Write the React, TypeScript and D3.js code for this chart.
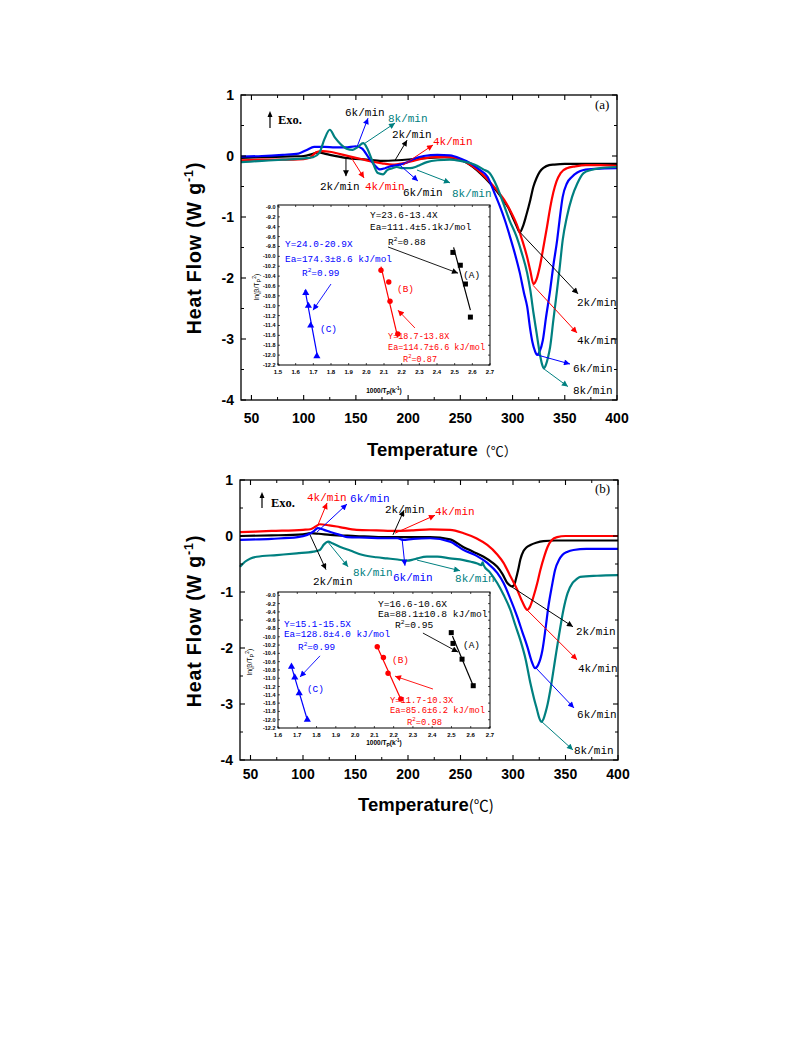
import React from "react";
import * as d3 from "d3";

// ---------------- Panel (a) DSC curves ----------------
const aBlackT = [40, 60, 80, 100, 108, 114, 122, 140, 160, 175, 190, 205, 220, 235, 250, 262, 270, 278, 285, 291, 296, 300, 304, 307, 310, 313, 317, 320, 323, 326, 330, 335, 340, 350, 370, 400];
const aBlackV = [-0.03, -0.02, -0.01, 0, 0.03, 0.06, 0.03, -0.03, -0.06, -0.08, -0.07, -0.05, -0.03, -0.02, -0.06, -0.18, -0.3, -0.44, -0.58, -0.72, -0.85, -1.0, -1.15, -1.25, -1.15, -0.98, -0.72, -0.5, -0.36, -0.26, -0.19, -0.15, -0.14, -0.13, -0.13, -0.13];

const aRedT = [40, 60, 80, 100, 106, 112, 118, 125, 135, 145, 155, 165, 175, 185, 195, 205, 215, 225, 240, 250, 262, 270, 278, 285, 292, 298, 304, 310, 314, 317, 320, 323, 326, 330, 333, 336, 339, 342, 346, 352, 360, 370, 385, 400];
const aRedV = [-0.07, -0.06, -0.06, -0.05, -0.03, 0.06, 0.08, 0.07, 0.03, -0.01, -0.05, -0.09, -0.12, -0.14, -0.12, -0.08, -0.04, -0.02, -0.02, -0.06, -0.17, -0.28, -0.42, -0.56, -0.72, -0.9, -1.12, -1.42, -1.66, -1.88, -2.1, -2.02, -1.82, -1.45, -1.16, -0.85, -0.6, -0.42, -0.28, -0.2, -0.17, -0.15, -0.15, -0.16];

const aBlueT = [40, 60, 80, 95, 103, 110, 120, 130, 140, 150, 156, 162, 168, 173, 178, 183, 190, 197, 205, 215, 228, 240, 250, 260, 268, 276, 283, 288, 293, 298, 303, 307, 311, 314, 317, 319, 321.5, 323.5, 326, 329, 332, 336, 339, 342.7, 345, 348, 352, 357, 362, 368, 380, 400];
const aBlueV = [-0.01, 0, 0.02, 0.04, 0.1, 0.15, 0.15, 0.14, 0.14, 0.16, 0.12, -0.02, -0.15, -0.22, -0.2, -0.17, -0.15, -0.12, -0.05, 0, 0.02, 0.01, -0.04, -0.12, -0.22, -0.34, -0.62, -0.83, -1.07, -1.35, -1.65, -1.92, -2.25, -2.47, -2.85, -3.05, -3.2, -3.26, -3.2, -3.02, -2.65, -2.2, -1.8, -1.38, -1.05, -0.67, -0.45, -0.34, -0.27, -0.23, -0.21, -0.2];

const aTealT = [40, 60, 80, 100, 109, 115, 120, 125, 130, 135, 141, 147, 152, 157, 161, 165, 171, 176, 180, 185, 189, 195, 202, 207, 211, 218, 228, 240, 250, 260, 266, 272, 278, 285, 291, 297, 304, 309, 314, 317, 320, 323, 326, 328, 330, 332, 334, 336, 339, 342.6, 345, 348, 352, 357, 362, 368, 375, 384, 400];
const aTealV = [-0.1, -0.08, -0.06, -0.04, -0.02, 0.05, 0.28, 0.43, 0.3, 0.2, 0.12, 0.1, 0.15, 0.21, 0.12, -0.05, -0.28, -0.3, -0.23, -0.2, -0.18, -0.2, -0.2, -0.18, -0.15, -0.1, -0.07, -0.06, -0.08, -0.12, -0.16, -0.22, -0.28, -0.5, -0.77, -1.05, -1.33, -1.6, -1.92, -2.2, -2.57, -2.9, -3.23, -3.4, -3.48, -3.42, -3.3, -3.13, -2.7, -2.2, -1.85, -1.38, -1.0, -0.67, -0.45, -0.28, -0.23, -0.2, -0.18];

// ---------------- Panel (b) DSC curves ----------------
const bBlackT = [40, 70, 100, 107, 115, 126, 150, 175, 200, 221, 240, 253, 262, 272, 280, 285, 290, 294.6, 297, 299, 301, 302.5, 305, 307, 310, 313, 316.6, 322, 329, 340, 360, 400];
const bBlackV = [0, 0.01, 0.03, 0.05, 0.04, 0.02, 0, -0.02, -0.02, -0.02, -0.06, -0.2, -0.28, -0.37, -0.47, -0.55, -0.68, -0.84, -0.88, -0.9, -0.88, -0.79, -0.6, -0.42, -0.27, -0.2, -0.16, -0.12, -0.09, -0.08, -0.08, -0.08];

const bRedT = [40, 70, 100, 107, 112, 116, 125, 135, 151, 170, 190, 205, 221, 240, 253, 265, 275.5, 285, 291, 297, 304, 309, 313.7, 316, 319.4, 323, 326, 330, 332.8, 337, 342, 350, 370, 400];
const bRedV = [0.07, 0.09, 0.11, 0.12, 0.17, 0.21, 0.19, 0.16, 0.11, 0.1, 0.09, 0.1, 0.12, 0.11, 0.05, -0.04, -0.16, -0.33, -0.48, -0.7, -0.96, -1.18, -1.32, -1.27, -1.09, -0.85, -0.61, -0.35, -0.2, -0.07, -0.02, 0, 0, 0];

const bBlueT = [40, 70, 95, 104, 110, 114, 120, 126, 135, 142, 160, 175, 190, 195, 205, 221, 240, 253, 265, 275.5, 285, 291, 297, 304, 309, 313.7, 318, 321, 324, 328, 331, 333.7, 337, 340, 344, 347, 352, 357.6, 370, 400];
const bBlueV = [-0.07, -0.05, -0.02, 0.02, 0.08, 0.14, 0.11, 0.07, 0.02, -0.02, -0.03, -0.04, -0.04, -0.07, -0.05, -0.04, -0.1, -0.25, -0.35, -0.48, -0.66, -0.84, -1.1, -1.44, -1.72, -1.98, -2.25, -2.36, -2.3, -2.04, -1.65, -1.26, -0.9, -0.61, -0.42, -0.34, -0.28, -0.25, -0.23, -0.23];

const bTealT = [40, 44.7, 50, 56, 75, 94, 110, 116, 120, 124, 128, 135, 145, 157, 170, 180, 190, 199, 205, 209, 218, 228, 240, 253, 260, 266, 270, 271, 272, 278, 285, 291, 297.5, 302, 307, 312, 316.6, 320, 323, 325, 327, 329, 331, 333, 336, 340.5, 344, 348, 352, 356.6, 360, 364, 380, 400];
const bTealV = [-0.55, -0.46, -0.4, -0.37, -0.34, -0.31, -0.28, -0.25, -0.15, -0.1, -0.13, -0.19, -0.26, -0.34, -0.38, -0.4, -0.42, -0.44, -0.42, -0.4, -0.37, -0.37, -0.4, -0.43, -0.46, -0.49, -0.52, -0.47, -0.52, -0.65, -0.84, -1.05, -1.32, -1.58, -1.86, -2.2, -2.63, -2.9, -3.11, -3.25, -3.32, -3.27, -3.15, -3.0, -2.7, -2.16, -1.75, -1.32, -1.02, -0.84, -0.78, -0.73, -0.71, -0.7];

// ---------------- Inset (a) Kissinger plots ----------------
const aInsetAX = [2.49, 2.532, 2.561, 2.589];
const aInsetAY = [-9.92, -10.18, -10.56, -11.23];
const aInsetAFitX = [2.494, 2.589];
const aInsetAFitY = [-9.82, -11.09];
const aInsetBX = [2.083, 2.127, 2.134, 2.178];
const aInsetBY = [-10.28, -10.52, -10.91, -11.57];
const aInsetBFitX = [2.083, 2.178];
const aInsetBFitY = [-10.21, -11.64];
const aInsetCX = [1.657, 1.672, 1.685, 1.72];
const aInsetCY = [-10.74, -11.0, -11.4, -12.02];
const aInsetCFitX = [1.653, 1.724];
const aInsetCFitY = [-10.68, -12.04];

// ---------------- Inset (b) Kissinger plots ----------------
const bInsetAX = [2.499, 2.508, 2.555, 2.613];
const bInsetAY = [-9.9, -10.16, -10.54, -11.18];
const bInsetAFitX = [2.505, 2.613];
const bInsetAFitY = [-9.98, -11.18];
const bInsetBX = [2.115, 2.147, 2.171, 2.237];
const bInsetBY = [-10.24, -10.5, -10.88, -11.5];
const bInsetBFitX = [2.115, 2.237];
const bInsetBFitY = [-10.24, -11.5];
const bInsetCX = [1.67, 1.687, 1.71, 1.752];
const bInsetCY = [-10.72, -10.98, -11.36, -12.0];
const bInsetCFitX = [1.67, 1.752];
const bInsetCFitY = [-10.72, -12.0];

// ---------------- Ticks ----------------
const mainXTicks = [50, 100, 150, 200, 250, 300, 350, 400];
const mainXMinor = [75, 125, 175, 225, 275, 325, 375];
const mainYTicks = [-4, -3, -2, -1, 0, 1];
const mainYMinor = [-3.5, -2.5, -1.5, -0.5, 0.5];
const insetYTicks = [-12.2, -12.0, -11.8, -11.6, -11.4, -11.2, -11.0, -10.8, -10.6, -10.4, -10.2, -10.0, -9.8, -9.6, -9.4, -9.2, -9.0];
const aInsetXTicks = [1.5, 1.6, 1.7, 1.8, 1.9, 2.0, 2.1, 2.2, 2.3, 2.4, 2.5, 2.6, 2.7];
const bInsetXTicks = [1.6, 1.7, 1.8, 1.9, 2.0, 2.1, 2.2, 2.3, 2.4, 2.5, 2.6, 2.7];

const C2 = "#000000";
const C4 = "#ff0000";
const C6 = "#0000ff";
const C8 = "#008080";

const MONO = "'Liberation Mono', 'DejaVu Sans Mono', monospace";
const SANS = "'Liberation Sans', Arial, sans-serif";
const SERIF = "'Liberation Serif', 'Times New Roman', serif";
const CJK = "'Noto Sans CJK SC', sans-serif";

type Lbl = { t: string; x: number; y: number; c: string };
type Arr = { x1: number; y1: number; x2: number; y2: number; c: string };

// Panel (a) annotations (data coordinates: °C, W/g)
const aLabels: Lbl[] = [
  { t: "6k/min", x: 139.6, y: 0.66, c: C2 },
  { t: "8k/min", x: 180.7, y: 0.56, c: C8 },
  { t: "2k/min", x: 184.6, y: 0.3, c: C2 },
  { t: "4k/min", x: 223.8, y: 0.18, c: C4 },
  { t: "2k/min", x: 115.6, y: -0.56, c: C2 },
  { t: "4k/min", x: 158.7, y: -0.56, c: C4 },
  { t: "6k/min", x: 195.1, y: -0.66, c: C2 },
  { t: "8k/min", x: 242, y: -0.67, c: C8 },
  { t: "2k/min", x: 361.7, y: -2.46, c: C2 },
  { t: "4k/min", x: 361.7, y: -3.08, c: C2 },
  { t: "6k/min", x: 357.9, y: -3.54, c: C2 },
  { t: "8k/min", x: 357.9, y: -3.9, c: C2 },
];
const aArrows: Arr[] = [
  { x1: 151.1, y1: 0.15, x2: 161.6, y2: 0.62, c: C6 },
  { x1: 158.7, y1: 0.21, x2: 187.5, y2: 0.54, c: C8 },
  { x1: 187.5, y1: -0.07, x2: 199, y2: 0.26, c: C2 },
  { x1: 195.1, y1: -0.15, x2: 223.8, y2: 0.18, c: C4 },
  { x1: 140.5, y1: -0.02, x2: 140.5, y2: -0.33, c: C2 },
  { x1: 145.3, y1: -0.02, x2: 157.8, y2: -0.36, c: C4 },
  { x1: 192.2, y1: -0.15, x2: 209.4, y2: -0.41, c: C6 },
  { x1: 208.5, y1: -0.23, x2: 240.1, y2: -0.44, c: C8 },
  { x1: 307.1, y1: -1.25, x2: 362.7, y2: -2.26, c: C2 },
  { x1: 319.6, y1: -2.12, x2: 361.7, y2: -2.9, c: C4 },
  { x1: 323.4, y1: -3.26, x2: 355, y2: -3.41, c: C6 },
  { x1: 329.2, y1: -3.48, x2: 353, y2: -3.78, c: C8 },
];

// Panel (b) annotations
const bLabels: Lbl[] = [
  { t: "4k/min", x: 103.8, y: 0.63, c: C4 },
  { t: "6k/min", x: 144.8, y: 0.6, c: C6 },
  { t: "2k/min", x: 178.1, y: 0.41, c: C2 },
  { t: "4k/min", x: 225.7, y: 0.37, c: C4 },
  { t: "2k/min", x: 109.5, y: -0.87, c: C2 },
  { t: "8k/min", x: 147.6, y: -0.72, c: C8 },
  { t: "6k/min", x: 185.7, y: -0.8, c: C6 },
  { t: "8k/min", x: 244.8, y: -0.82, c: C8 },
  { t: "2k/min", x: 360, y: -1.77, c: C2 },
  { t: "4k/min", x: 361.9, y: -2.43, c: C2 },
  { t: "6k/min", x: 361, y: -3.25, c: C2 },
  { t: "8k/min", x: 358.1, y: -3.89, c: C2 },
];
const bArrows: Arr[] = [
  { x1: 114.3, y1: 0.2, x2: 122.9, y2: 0.59, c: C4 },
  { x1: 113.3, y1: 0.07, x2: 141.9, y2: 0.57, c: C6 },
  { x1: 185.7, y1: 0.02, x2: 196.2, y2: 0.46, c: C2 },
  { x1: 187.6, y1: 0.05, x2: 225.7, y2: 0.37, c: C4 },
  { x1: 106.7, y1: 0.02, x2: 121.9, y2: -0.6, c: C2 },
  { x1: 123.8, y1: -0.11, x2: 142.9, y2: -0.55, c: C8 },
  { x1: 194.3, y1: -0.04, x2: 197.1, y2: -0.53, c: C6 },
  { x1: 208.6, y1: -0.43, x2: 249.5, y2: -0.62, c: C8 },
  { x1: 299, y1: -0.91, x2: 357.1, y2: -1.62, c: C2 },
  { x1: 313.3, y1: -1.32, x2: 361, y2: -2.21, c: C4 },
  { x1: 321, y1: -2.34, x2: 358.1, y2: -3.07, c: C6 },
  { x1: 327.6, y1: -3.32, x2: 357.1, y2: -3.82, c: C8 },
];

// Inset text (inset data coordinates)
type ITxt = { parts: string[]; x: number; y: number; c: string; s: number; r2?: boolean };
const aInsetText: ITxt[] = [
  { parts: ["Y=23.6-13.4X"], x: 2.021, y: -9.22, c: C2, s: 9.4 },
  { parts: ["Ea=111.4±5.1kJ/mol"], x: 2.021, y: -9.47, c: C2, s: 9.4 },
  { parts: ["R", "0.88"], x: 2.123, y: -9.77, c: C2, s: 9.4, r2: true },
  { parts: ["(A)"], x: 2.548, y: -10.44, c: C2, s: 9.4 },
  { parts: ["Y=24.0-20.9X"], x: 1.54, y: -9.81, c: C6, s: 9.4 },
  { parts: ["Ea=174.3±8.6 kJ/mol"], x: 1.54, y: -10.11, c: C6, s: 9.4 },
  { parts: ["R", "0.99"], x: 1.636, y: -10.4, c: C6, s: 9.4, r2: true },
  { parts: ["(C)"], x: 1.738, y: -11.53, c: C6, s: 9.4 },
  { parts: ["(B)"], x: 2.174, y: -10.72, c: C4, s: 9.4 },
  { parts: ["Y=18.7-13.8X"], x: 2.123, y: -11.67, c: C4, s: 8.5 },
  { parts: ["Ea=114.7±6.6 kJ/mol"], x: 2.123, y: -11.9, c: C4, s: 8.5 },
  { parts: ["R", "0.87"], x: 2.208, y: -12.14, c: C4, s: 8.5, r2: true },
];
const aInsetArrows: Arr[] = [
  { x1: 2.123, y1: -9.81, x2: 2.519, y2: -10.34, c: C2 },
  { x1: 2.275, y1: -11.45, x2: 2.179, y2: -11.09, c: C4 },
  { x1: 1.8, y1: -10.56, x2: 1.698, y2: -11.09, c: C6 },
];
const bInsetText: ITxt[] = [
  { parts: ["Y=16.6-10.6X"], x: 2.119, y: -9.28, c: C2, s: 9.6 },
  { parts: ["Ea=88.1±10.8 kJ/mol"], x: 2.119, y: -9.52, c: C2, s: 9.6 },
  { parts: ["R", "0.95"], x: 2.207, y: -9.79, c: C2, s: 9.6, r2: true },
  { parts: ["(A)"], x: 2.56, y: -10.27, c: C2, s: 9.4 },
  { parts: ["Y=15.1-15.5X"], x: 1.631, y: -9.76, c: C6, s: 9.3 },
  { parts: ["Ea=128.8±4.0 kJ/mol"], x: 1.631, y: -10.0, c: C6, s: 9.3 },
  { parts: ["R", "0.99"], x: 1.704, y: -10.32, c: C6, s: 9.3, r2: true },
  { parts: ["(C)"], x: 1.75, y: -11.33, c: C6, s: 9.4 },
  { parts: ["(B)"], x: 2.192, y: -10.63, c: C4, s: 9.4 },
  { parts: ["Y=11.7-10.3X"], x: 2.181, y: -11.6, c: C4, s: 8.8 },
  { parts: ["Ea=85.6±6.2 kJ/mol"], x: 2.181, y: -11.84, c: C4, s: 8.8 },
  { parts: ["R", "0.98"], x: 2.269, y: -12.13, c: C4, s: 8.8, r2: true },
];
const bInsetArrows: Arr[] = [
  { x1: 2.352, y1: -9.91, x2: 2.534, y2: -10.37, c: C2 },
  { x1: 2.404, y1: -11.26, x2: 2.207, y2: -10.95, c: C4 },
  { x1: 1.818, y1: -10.46, x2: 1.714, y2: -10.97, c: C6 },
];

const zip = (a: number[], b: number[]): [number, number][] => a.map((v, i) => [v, b[i]]);

function markerId(c: string) {
  return "arr" + c.replace("#", "");
}

function Arrow({ a, x, y, w = 1 }: { a: Arr; x: (v: number) => number; y: (v: number) => number; w?: number }) {
  return (
    <line x1={x(a.x1)} y1={y(a.y1)} x2={x(a.x2)} y2={y(a.y2)} stroke={a.c} strokeWidth={w} markerEnd={`url(#${markerId(a.c)})`} />
  );
}

type InsetCfg = {
  left: number; right: number; top: number; bottom: number;
  xDom: [number, number]; yDom: [number, number];
  xTicks: number[];
  A: [number[], number[], number[], number[]];
  B: [number[], number[], number[], number[]];
  C: [number[], number[], number[], number[]];
  text: ITxt[]; arrows: Arr[];
  xTitleY: number; yTitleX: number; yTitleY: number;
};

function Inset({ cfg }: { cfg: InsetCfg }) {
  const x = d3.scaleLinear().domain(cfg.xDom).range([cfg.left, cfg.right]);
  const y = d3.scaleLinear().domain(cfg.yDom).range([cfg.bottom, cfg.top]);
  const fit = (fx: number[], fy: number[], c: string) => (
    <line x1={x(fx[0])} y1={y(fy[0])} x2={x(fx[1])} y2={y(fy[1])} stroke={c} strokeWidth={1.2} />
  );
  const tri = d3.symbol().type(d3.symbolTriangle).size(22)();
  return (
    <g>
      <rect x={cfg.left} y={cfg.top} width={cfg.right - cfg.left} height={cfg.bottom - cfg.top} fill="#fff" stroke="#000" strokeWidth={1} />
      {insetYTicks.map((t) => (
        <g key={"iy" + t}>
          <line x1={cfg.left} x2={cfg.left + 2} y1={y(t)} y2={y(t)} stroke="#000" strokeWidth={0.7} />
          <line x1={cfg.right} x2={cfg.right - 2} y1={y(t)} y2={y(t)} stroke="#000" strokeWidth={0.7} />
          <text x={cfg.left - 2.5} y={y(t) + 2} fontSize={5.5} fontWeight="bold" fontFamily={SANS} textAnchor="end">{t.toFixed(1)}</text>
        </g>
      ))}
      {cfg.xTicks.map((t) => (
        <g key={"ix" + t}>
          <line x1={x(t)} x2={x(t)} y1={cfg.bottom} y2={cfg.bottom - 2} stroke="#000" strokeWidth={0.7} />
          <line x1={x(t)} x2={x(t)} y1={cfg.top} y2={cfg.top + 2} stroke="#000" strokeWidth={0.7} />
          <text x={x(t)} y={cfg.bottom + 9} fontSize={6} fontWeight="bold" fontFamily={SANS} textAnchor="middle">{t.toFixed(1)}</text>
        </g>
      ))}
      <text x={(cfg.left + cfg.right) / 2} y={cfg.xTitleY} fontSize={6.5} fontWeight="bold" fontFamily={SANS} textAnchor="middle">
        1000/T<tspan fontSize={5} dy={1.5}>P</tspan><tspan dy={-1.5}>(k</tspan><tspan fontSize={4.5} dy={-3}>-1</tspan><tspan dy={3}>)</tspan>
      </text>
      <text transform={`translate(${cfg.yTitleX},${cfg.yTitleY}) rotate(-90)`} fontSize={7} fontFamily={SANS} textAnchor="middle">
        ln(β/T<tspan fontSize={5.5} dy={1.5}>P</tspan><tspan fontSize={5} dy={-5}>2</tspan><tspan dy={3.5}>)</tspan>
      </text>
      {fit(cfg.A[2], cfg.A[3], C2)}
      {fit(cfg.B[2], cfg.B[3], C4)}
      {fit(cfg.C[2], cfg.C[3], C6)}
      {zip(cfg.A[0], cfg.A[1]).map((p, i) => (
        <rect key={"a" + i} x={x(p[0]) - 2.5} y={y(p[1]) - 2.5} width={5} height={5} fill={C2} />
      ))}
      {zip(cfg.B[0], cfg.B[1]).map((p, i) => (
        <circle key={"b" + i} cx={x(p[0])} cy={y(p[1])} r={2.7} fill={C4} />
      ))}
      {zip(cfg.C[0], cfg.C[1]).map((p, i) => (
        <path key={"c" + i} d={tri || ""} transform={`translate(${x(p[0])},${y(p[1])})`} fill={C6} />
      ))}
      {cfg.arrows.map((a, i) => <Arrow key={"ia" + i} a={a} x={x} y={y} w={0.9} />)}
      {cfg.text.map((t, i) => (
        <text key={"it" + i} x={x(t.x)} y={y(t.y)} fill={t.c} fontSize={t.s} fontFamily={MONO}>
          {t.r2 ? (
            <>
              {t.parts[0]}
              <tspan fontSize={t.s * 0.65} dy={-4}>2</tspan>
              <tspan dy={4}>{"=" + t.parts[1]}</tspan>
            </>
          ) : (
            t.parts[0]
          )}
        </text>
      ))}
    </g>
  );
}

type PanelCfg = {
  left: number; right: number; top: number; bottom: number;
  series: { T: number[]; v: number[]; c: string }[];
  labels: Lbl[]; arrows: Arr[];
  tag: string; tagX: number; tagY: number;
  exoX: number; exoY1: number; exoY2: number; exoTextX: number; exoTextY: number;
  xTitle: string; xTitleX: number; xTitleY: number; tickLabelY: number;
  yTitleY: number;
  inset: InsetCfg;
};

function Panel({ cfg }: { cfg: PanelCfg }) {
  const x = d3.scaleLinear().domain([40, 400]).range([cfg.left, cfg.right]);
  const y = d3.scaleLinear().domain([-4, 1]).range([cfg.bottom, cfg.top]);
  const line = d3
    .line<[number, number]>()
    .x((d) => x(d[0]))
    .y((d) => y(d[1]))
    .curve(d3.curveMonotoneX);
  const maj = 5;
  const mn = 3;
  return (
    <g>
      <Inset cfg={cfg.inset} />
      {cfg.series.map((s, i) => (
        <path key={"s" + i} d={line(zip(s.T, s.v)) || ""} fill="none" stroke={s.c} strokeWidth={2.2} strokeLinejoin="round" />
      ))}
      <rect x={cfg.left} y={cfg.top} width={cfg.right - cfg.left} height={cfg.bottom - cfg.top} fill="none" stroke="#000" strokeWidth={1.3} />
      {mainXTicks.map((t) => (
        <g key={"mx" + t}>
          <line x1={x(t)} x2={x(t)} y1={cfg.bottom} y2={cfg.bottom - maj} stroke="#000" strokeWidth={1.1} />
          <line x1={x(t)} x2={x(t)} y1={cfg.top} y2={cfg.top + maj} stroke="#000" strokeWidth={1.1} />
          <text x={x(t)} y={cfg.tickLabelY} fontSize={14} fontWeight="bold" fontFamily={SANS} textAnchor="middle">{t}</text>
        </g>
      ))}
      {mainXMinor.map((t) => (
        <g key={"mnx" + t}>
          <line x1={x(t)} x2={x(t)} y1={cfg.bottom} y2={cfg.bottom - mn} stroke="#000" strokeWidth={1} />
          <line x1={x(t)} x2={x(t)} y1={cfg.top} y2={cfg.top + mn} stroke="#000" strokeWidth={1} />
        </g>
      ))}
      {mainYTicks.map((t) => (
        <g key={"my" + t}>
          <line x1={cfg.left} x2={cfg.left + maj} y1={y(t)} y2={y(t)} stroke="#000" strokeWidth={1.1} />
          <line x1={cfg.right} x2={cfg.right - maj} y1={y(t)} y2={y(t)} stroke="#000" strokeWidth={1.1} />
          <text x={cfg.left - 7} y={y(t) + 5} fontSize={14} fontWeight="bold" fontFamily={SANS} textAnchor="end">{t}</text>
        </g>
      ))}
      {mainYMinor.map((t) => (
        <g key={"mny" + t}>
          <line x1={cfg.left} x2={cfg.left + mn} y1={y(t)} y2={y(t)} stroke="#000" strokeWidth={1} />
          <line x1={cfg.right} x2={cfg.right - mn} y1={y(t)} y2={y(t)} stroke="#000" strokeWidth={1} />
        </g>
      ))}
      {cfg.arrows.map((a, i) => <Arrow key={"a" + i} a={a} x={x} y={y} w={1} />)}
      {cfg.labels.map((l, i) => (
        <text key={"l" + i} x={x(l.x)} y={y(l.y)} fill={l.c} fontSize={11} fontFamily={MONO}>{l.t}</text>
      ))}
      <line x1={cfg.exoX} x2={cfg.exoX} y1={cfg.exoY1} y2={cfg.exoY2 + 5} stroke="#000" strokeWidth={1.2} />
      <path d={`M${cfg.exoX - 2.5},${cfg.exoY2 + 6} L${cfg.exoX},${cfg.exoY2} L${cfg.exoX + 2.5},${cfg.exoY2 + 6} Z`} fill="#000" />
      <text x={cfg.exoTextX} y={cfg.exoTextY} fontSize={12.5} fontWeight="bold" fontFamily={SERIF}>Exo.</text>
      <text x={cfg.tagX} y={cfg.tagY} fontSize={13} fontFamily={SERIF}>{cfg.tag}</text>
      <text transform={`translate(201,${cfg.yTitleY}) rotate(-90)`} fontSize={19.5} letterSpacing={0.9} fontWeight="bold" fontFamily={SANS} textAnchor="middle">
        Heat Flow (W g<tspan fontSize={12.5} dy={-8}>-1</tspan><tspan dy={8}>)</tspan>
      </text>
      <text x={cfg.xTitleX} y={cfg.xTitleY} fontSize={18.5} fontWeight="bold" fontFamily={SANS}>
        Temperature<tspan fontWeight="normal" fontFamily={CJK} fontSize={cfg.xTitle === "full" ? 13 : 15}>{cfg.xTitle === "full" ? "（℃）" : "(℃)"}</tspan>
      </text>
    </g>
  );
}

export default function App() {
  const panelA: PanelCfg = {
    left: 241, right: 617, top: 95, bottom: 400,
    series: [
      { T: aBlackT, v: aBlackV, c: C2 },
      { T: aRedT, v: aRedV, c: C4 },
      { T: aBlueT, v: aBlueV, c: C6 },
      { T: aTealT, v: aTealV, c: C8 },
    ],
    labels: aLabels, arrows: aArrows,
    tag: "(a)", tagX: 595, tagY: 109,
    exoX: 270, exoY1: 128, exoY2: 111, exoTextX: 278, exoTextY: 124,
    xTitle: "full", xTitleX: 367, xTitleY: 456, tickLabelY: 423,
    yTitleY: 248,
    inset: {
      left: 278, right: 490, top: 205, bottom: 365,
      xDom: [1.5, 2.7], yDom: [-12.2, -8.96], xTicks: aInsetXTicks,
      A: [aInsetAX, aInsetAY, aInsetAFitX, aInsetAFitY],
      B: [aInsetBX, aInsetBY, aInsetBFitX, aInsetBFitY],
      C: [aInsetCX, aInsetCY, aInsetCFitX, aInsetCFitY],
      text: aInsetText, arrows: aInsetArrows,
      xTitleY: 393, yTitleX: 259, yTitleY: 287,
    },
  };
  const panelB: PanelCfg = {
    left: 240, right: 618, top: 480, bottom: 760,
    series: [
      { T: bBlackT, v: bBlackV, c: C2 },
      { T: bRedT, v: bRedV, c: C4 },
      { T: bBlueT, v: bBlueV, c: C6 },
      { T: bTealT, v: bTealV, c: C8 },
    ],
    labels: bLabels, arrows: bArrows,
    tag: "(b)", tagX: 595, tagY: 493,
    exoX: 262, exoY1: 508, exoY2: 492, exoTextX: 271, exoTextY: 507,
    xTitle: "half", xTitleX: 358, xTitleY: 811, tickLabelY: 779,
    yTitleY: 621,
    inset: {
      left: 278, right: 490, top: 592, bottom: 728,
      xDom: [1.6, 2.7], yDom: [-12.2, -8.92], xTicks: bInsetXTicks,
      A: [bInsetAX, bInsetAY, bInsetAFitX, bInsetAFitY],
      B: [bInsetBX, bInsetBY, bInsetBFitX, bInsetBFitY],
      C: [bInsetCX, bInsetCY, bInsetCFitX, bInsetCFitY],
      text: bInsetText, arrows: bInsetArrows,
      xTitleY: 745, yTitleX: 252, yTitleY: 662,
    },
  };
  const colors = [C2, C4, C6, C8];
  return (
    <svg width={793} height={1057} style={{ position: "absolute", left: 0, top: 0, background: "#fff" }}>
      <defs>
        {colors.map((c) => (
          <marker key={c} id={markerId(c)} viewBox="0 0 10 10" refX={10} refY={5} markerWidth={7} markerHeight={6} markerUnits="userSpaceOnUse" orient="auto">
            <path d="M0,0 L10,5 L0,10 Z" fill={c} />
          </marker>
        ))}
      </defs>
      <rect width={793} height={1057} fill="#fff" />
      <Panel cfg={panelA} />
      <Panel cfg={panelB} />
    </svg>
  );
}
